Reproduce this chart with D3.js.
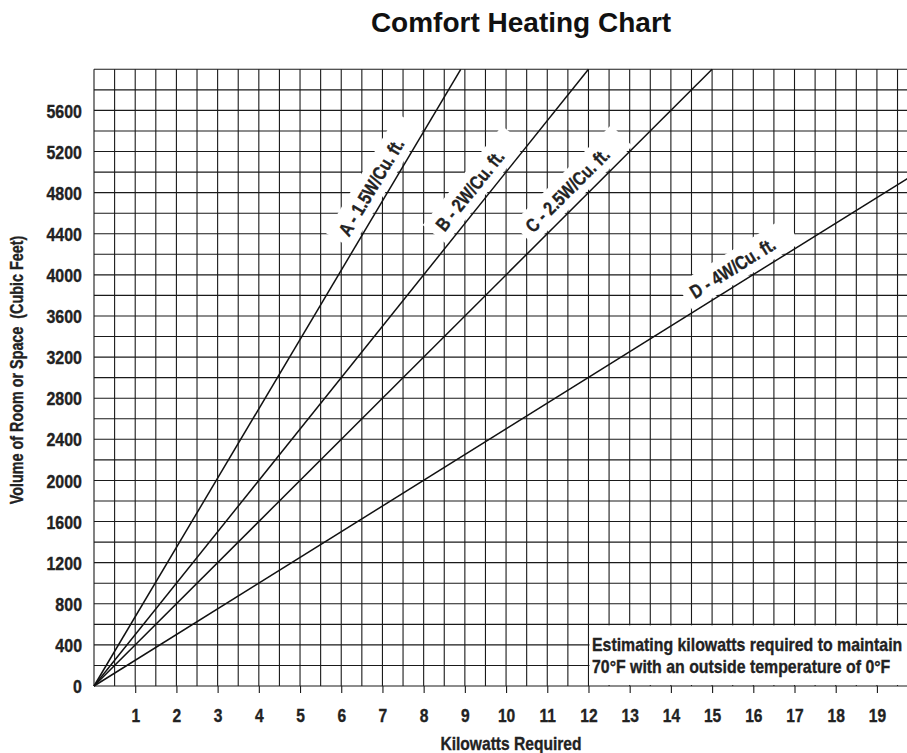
<!DOCTYPE html>
<html>
<head>
<meta charset="utf-8">
<script src="https://cdn.jsdelivr.net/npm/d3@7"></script>
<style>
body{margin:0;background:#fff;}
svg{display:block;}
.cond{font-family:"Liberation Sans Narrow","Liberation Sans",Arial,sans-serif;font-weight:bold;fill:#222;stroke:#222;stroke-width:0.35px;}
</style>
</head>
<body>
<script>
var xTickLabels = [1,2,3,4,5,6,7,8,9,10,11,12,13,14,15,16,17,18,19];
var yTickLabels = [0,400,800,1200,1600,2000,2400,2800,3200,3600,4000,4400,4800,5200,5600];
var lineNames = ["A - 1.5W/Cu. ft.","B - 2W/Cu. ft.","C - 2.5W/Cu. ft.","D - 4W/Cu. ft."];
// kilowatts, volume pairs
var lineA = [[0,0],[8.9,6000]];
var lineB = [[0,0],[12,6000]];
var lineC = [[0,0],[15,6000]];
var lineD = [[0,0],[19.75,4940]];
var noteLines = ["Estimating kilowatts required to maintain","70\u00B0F with an outside temperature of 0\u00B0F"];

var W = 907, H = 753;
var svg = d3.select("body").append("svg").attr("width",W).attr("height",H);

var x = d3.scaleLinear().domain([0,19.73]).range([94,907]);
var y = d3.scaleLinear().domain([0,6000]).range([686,69.3]);

// squeeze text to look like a condensed face
function narrow(sel,f){
    f = f || 0.82;
    sel.each(function(){
        var len = this.getComputedTextLength();
        d3.select(this).attr("textLength",len*f).attr("lengthAdjust","spacingAndGlyphs");
    });
}

// title
svg.append("text")
    .attr("x",521).attr("y",32)
    .attr("text-anchor","middle")
    .attr("font-family","'Liberation Sans',Arial,sans-serif")
    .attr("font-weight","bold")
    .attr("font-size","28px")
    .attr("fill","#111")
    .text("Comfort Heating Chart");

// grid
var grid = svg.append("g").attr("stroke","#1a1a1a").attr("stroke-width",1.1);
grid.selectAll("line.v")
    .data(d3.range(0,19.75,0.5))
    .enter().append("line")
        .attr("class","v")
        .attr("x1",function(d){return x(d);}).attr("x2",function(d){return x(d);})
        .attr("y1",y(6000)).attr("y2",y(0));
grid.selectAll("line.h")
    .data(d3.range(0,6001,200))
    .enter().append("line")
        .attr("class","h")
        .attr("x1",x(0)).attr("x2",W)
        .attr("y1",function(d){return y(d);}).attr("y2",function(d){return y(d);});

// note box knocks the grid out in the lower right
svg.append("rect")
    .attr("x",x(12)+1).attr("y",y(600)+1)
    .attr("width",W-x(12)-1).attr("height",y(0)-y(600)-2)
    .attr("fill","#fff");

// x axis ticks + labels
var xAxis = svg.append("g")
    .attr("transform","translate(0,"+y(0)+")")
    .call(d3.axisBottom(x).tickValues(xTickLabels).tickSize(7).tickFormat(d3.format("d")));
xAxis.select(".domain").remove();
xAxis.selectAll("line").attr("stroke","#1a1a1a").attr("stroke-width",1.1);
xAxis.selectAll("text")
    .attr("class","cond")
    .attr("y",36).attr("dy",null)
    .attr("font-size","19px")
    .call(narrow);

// y axis labels
var yAxis = svg.append("g")
    .attr("transform","translate("+x(0)+",0)")
    .call(d3.axisLeft(y).tickValues(yTickLabels).tickSize(0).tickPadding(12).tickFormat(d3.format("d")));
yAxis.select(".domain").remove();
yAxis.selectAll("text")
    .attr("class","cond")
    .attr("dy","0.35em")
    .attr("font-size","19px")
    .call(narrow,0.84);

// axis titles
svg.append("text")
    .attr("class","cond")
    .attr("x",511).attr("y",750)
    .attr("text-anchor","middle")
    .attr("font-size","19px")
    .text("Kilowatts Required")
    .call(narrow);
svg.append("text")
    .attr("class","cond")
    .attr("transform","translate(23,370) rotate(-90)")
    .attr("text-anchor","middle")
    .attr("font-size","17.5px")
    .style("white-space","pre")
    .text("Volume of Room or Space  (Cubic Feet)")
    .call(narrow);

// note text, squeezed with a scale so its box stays inside the page
svg.append("g").selectAll("text")
    .data(noteLines)
    .enter().append("text")
        .attr("class","cond")
        .attr("x",0).attr("y",0)
        .attr("transform",function(d,i){return "translate(592,"+(651+i*21.6)+") scale(0.835,1)";})
        .attr("font-size","19px")
        .text(function(d){return d;});

// series lines with rotated labels
var lines = [lineA,lineB,lineC,lineD];
var labelAt = [4770,4720,4710,3930]; // volume where each label is centred
var path = d3.line().x(function(d){return x(d[0]);}).y(function(d){return y(d[1]);});

var labels = svg.append("g");
lines.forEach(function(ln,i){
    var k1 = ln[1][0], v1 = ln[1][1];
    var dx = x(k1)-x(0), dy = y(v1)-y(0);
    var ang = Math.atan2(dy,dx)*180/Math.PI;
    var v = labelAt[i], k = v*k1/v1;
    var g = labels.append("g")
        .attr("transform","translate("+x(k)+","+y(v)+") rotate("+ang+")");
    var bg = g.append("rect").attr("fill","#fff");
    var t = g.append("text")
        .attr("class","cond")
        .attr("x",0).attr("y",-10)
        .attr("text-anchor","middle")
        .attr("font-size","19px")
        .text(lineNames[i])
        .call(narrow);
    var w = +t.attr("textLength");
    bg.attr("x",-w/2-8).attr("y",-32).attr("width",w+30).attr("height",30);
});

svg.append("g").selectAll("path")
    .data(lines)
    .enter().append("path")
        .attr("d",path)
        .attr("fill","none")
        .attr("stroke","#111")
        .attr("stroke-width",1.5);

// keep label texts on top of the lines
labels.raise();
</script>
</body>
</html>
